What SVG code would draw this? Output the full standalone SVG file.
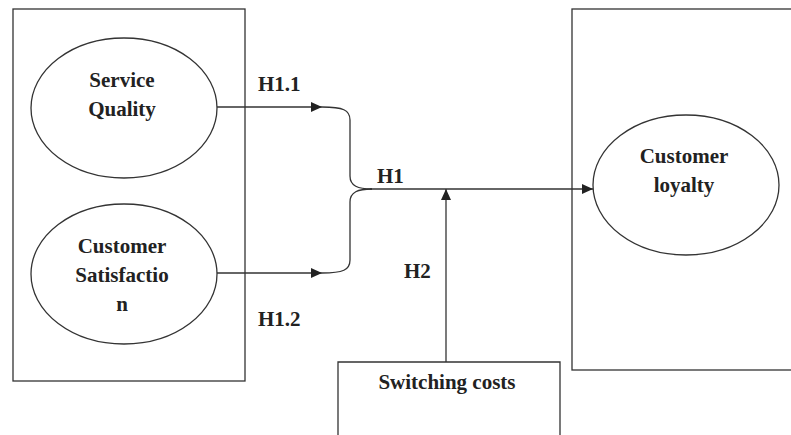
<svg xmlns="http://www.w3.org/2000/svg" width="791" height="435" viewBox="0 0 791 435">
<defs>
<style>
.box{fill:none;stroke:#333;stroke-width:1.3}
.ell{fill:#fff;stroke:#333;stroke-width:1.3}
.ln{fill:none;stroke:#333;stroke-width:1.3}
text{font-family:"Liberation Serif","Times New Roman",serif;font-weight:bold;font-size:21px;fill:#222}
.c{text-anchor:middle}
</style>
<marker id="ah" markerUnits="userSpaceOnUse" markerWidth="12" markerHeight="10" refX="11" refY="5" orient="auto">
<path d="M0,0 L11,5 L0,10 Z" fill="#222"/>
</marker>
</defs>
<rect width="791" height="435" fill="#fff"/>
<g id="left-box"><rect class="box" x="13" y="9" width="232" height="372"/></g>
<g id="right-box"><rect class="box" x="572" y="9" width="225" height="361"/></g>
<g id="switching-costs"><path class="box" d="M338,440 V362 H560 V440"/><text class="c" x="447" y="389">Switching costs</text></g>
<g id="service-quality"><ellipse class="ell" cx="124" cy="108" rx="93" ry="70"/><text class="c" x="122" y="87">Service</text><text class="c" x="122" y="116">Quality</text></g>
<g id="customer-satisfaction"><ellipse class="ell" cx="124" cy="274" rx="93" ry="70"/><text class="c" x="122" y="253">Customer</text><text class="c" x="122" y="282">Satisfactio</text><text class="c" x="122" y="311">n</text></g>
<g id="customer-loyalty"><ellipse class="ell" cx="686" cy="185" rx="93" ry="70"/><text class="c" x="684" y="163">Customer</text><text class="c" x="684" y="192">loyalty</text></g>
<g id="connectors">
<path class="ln" d="M217,107 H322" marker-end="url(#ah)"/>
<path class="ln" d="M217,273 H322" marker-end="url(#ah)"/>
<path class="ln" d="M322,107 C343,107 350,110 350,120 V176 C350,186 358,189 372,189"/>
<path class="ln" d="M322,273 C343,273 350,270 350,260 V202 C350,192 358,189 372,189"/>
<path class="ln" d="M370,189 H593" marker-end="url(#ah)"/>
<path class="ln" d="M446,362 V189" marker-end="url(#ah)"/>
</g>
<g id="labels">
<text x="258" y="91">H1.1</text>
<text x="258" y="326">H1.2</text>
<text x="377" y="183">H1</text>
<text x="404" y="278">H2</text>
</g>
</svg>
